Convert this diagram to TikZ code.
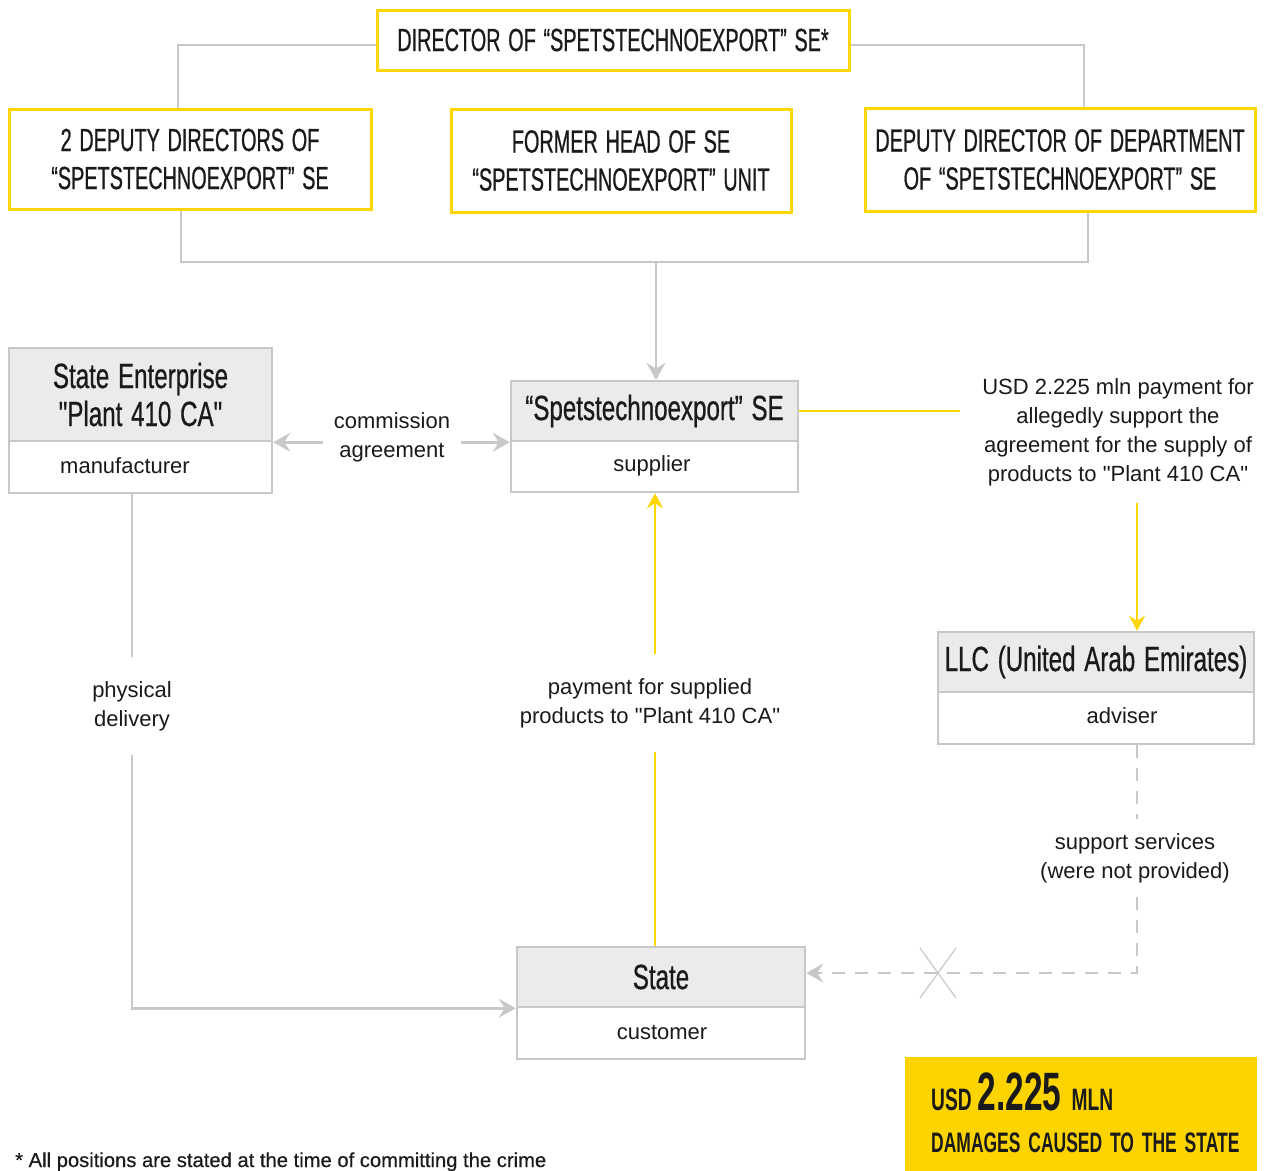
\documentclass[tikz,border=0pt]{standalone}
\usepackage{fontspec}
\setmainfont{Liberation Sans}
\newfontfamily\bodyfont{Liberation Sans}
\newfontfamily\condfont[FakeStretch=0.62,FakeBold=0.6,WordSpace=1.4]{Liberation Sans}
\newfontfamily\hdrfont[FakeStretch=0.69,FakeBold=0.6,WordSpace=1.3]{Liberation Sans}
\newfontfamily\boldcond[FakeStretch=0.62]{Liberation Sans}
\newfontfamily\footfont[FakeBold=0.4]{Liberation Sans}
\usetikzlibrary{arrows.meta}
\definecolor{ybord}{HTML}{FFD600}
\definecolor{glin}{HTML}{C8C8C8}
\definecolor{hfill}{HTML}{EBEBEB}
\definecolor{dmg}{HTML}{FDD400}
\definecolor{ink}{HTML}{1A1A1A}
\tikzset{
  ybox/.style={draw=ybord, line width=3pt, fill=white, inner sep=0pt, align=center, text=ink,
    font=\condfont\fontsize{32}{38}\selectfont},
  hdr/.style={draw=glin, line width=2.5pt, fill=hfill, inner sep=0pt, align=center, text=ink,
    font=\hdrfont\fontsize{35}{38}\selectfont},
  subbox/.style={draw=glin, line width=2.5pt, fill=white, inner sep=0pt},
  body/.style={font=\bodyfont\fontsize{22}{29}\selectfont, align=center, text=ink},
  gconn/.style={draw=glin, line width=2.5pt},
  garrow/.style={gconn, -{Stealth[length=17pt,width=19pt,inset=6pt]}},
  gdash/.style={gconn, dash pattern=on 13pt off 10pt},
  yconn/.style={draw=ybord, line width=2pt},
  yarrow/.style={yconn, -{Stealth[length=15pt,width=16pt,inset=5pt]}}
}
\begin{document}
\begin{tikzpicture}[x=1pt,y=-1pt]
\useasboundingbox (0,0) rectangle (1266,1170);
\fill[white] (0,0) rectangle (1266,1170);

% top boxes
\node[ybox, minimum width=472pt, minimum height=60pt] (dir) at (613,40) {DIRECTOR OF “SPETSTECHNOEXPORT” SE*};
\node[ybox, minimum width=362pt, minimum height=100pt] (dep) at (190,159) {2 DEPUTY DIRECTORS OF\\“SPETSTECHNOEXPORT” SE};
\node[ybox, minimum width=340pt, minimum height=103pt] (fhead) at (621,160.5) {FORMER HEAD OF SE\\“SPETSTECHNOEXPORT” UNIT};
\node[ybox, minimum width=390pt, minimum height=103pt] (dept) at (1060,159.5) {DEPUTY DIRECTOR OF DEPARTMENT\\OF “SPETSTECHNOEXPORT” SE};

\coordinate (j) at (656,262);
\draw[gconn] ([yshift=-5pt]dir.west) -| ([xshift=-12pt]dep.north);
\draw[gconn] ([yshift=-5pt]dir.east) -| ([xshift=24pt]dept.north);
\draw[gconn] ([xshift=-9pt]dep.south) |- (j) -| ([xshift=28pt]dept.south);

% plant
\node[hdr, minimum width=263pt, minimum height=93pt] (planth) at (140.5,394.5) {State Enterprise\\"Plant 410 CA"};
\node[subbox, minimum width=263pt, minimum height=52pt] (plants) at (140.5,467) {};
\node[body] (manu) at (125,466) {manufacturer};

% spets
\node[hdr, minimum width=287pt, minimum height=60pt] (spetsh) at (654.5,411) {“Spetstechnoexport” SE};
\node[subbox, minimum width=287pt, minimum height=51pt] (spetss) at (654.5,466.5) {};
\node[body] (supl) at (652,466) {supplier};

\draw[garrow] (j) -- (j |- spetsh.north);

% commission
\node[body, inner xsep=11pt] (comm) at (392,437) {commission\\agreement};
\draw[garrow] (comm.west |- planth.south) -- (planth.south east);
\draw[garrow] (comm.east |- planth.south) -- (spetsh.south west);

% USD payment
\node[body, inner xsep=22pt] (usd) at (1118,432) {USD 2.225 mln payment for\\allegedly support the\\agreement for the supply of\\products to "Plant 410 CA"};
\draw[yconn] (spetsh.east) -- (spetsh.east -| usd.west);

% LLC
\node[hdr, minimum width=316pt, minimum height=60pt] (llch) at (1096,662) {LLC (United Arab Emirates)};
\node[subbox, minimum width=316pt, minimum height=52pt] (llcs) at (1096,718) {};
\node[body] (advs) at (1122,716) {adviser};

\coordinate (ua) at (1137,503);
\draw[yarrow] (ua) -- (ua |- llch.north);

% State
\node[hdr, minimum width=288pt, minimum height=60pt] (stateh) at (661,977) {State};
\node[subbox, minimum width=288pt, minimum height=52pt] (states) at (661,1033) {};
\node[body] (cust) at (662,1032) {customer};

% support services
\node[body, inner ysep=14pt] (supp) at (1135,858) {support services\\(were not provided)};
\coordinate (corner) at (1137,973);
\draw[gdash] (llcs.south -| corner) -- (supp.north -| corner);
\draw[gdash, -{Stealth[length=17pt,width=19pt,inset=6pt]}] (supp.south -| corner) -- (corner) -- (corner -| stateh.east);
\draw[glin, line width=1.2pt] (920,948) -- (956,998) (956,948) -- (920,998);

% payment for supplied
\coordinate (px) at (655,0);
\node[body, inner ysep=24pt] (pay) at (650,703) {payment for supplied\\products to "Plant 410 CA"};
\draw[yconn] (stateh.north -| px) -- (pay.south -| px);
\draw[yarrow] (pay.north -| px) -- (spetss.south -| px);

% physical delivery
\node[body, inner ysep=24pt] (phys) at (132,706) {physical\\delivery};
\draw[gconn] (plants.south -| phys) -- (phys.north);
\draw[garrow] (phys.south) |- (stateh.south west);

% damages
\fill[dmg] (905,1057) rectangle (1257,1185);
\node[anchor=base west, inner sep=0pt, text=ink, font=\boldcond\bfseries] (dmgnum) at (931,1110)
  {{\fontsize{31}{31}\selectfont USD}\hspace{6pt}{\fontsize{54}{54}\selectfont 2.225}\hspace{10pt}{\fontsize{31}{31}\selectfont MLN}};
\node[anchor=base west, inner sep=0pt, text=ink, font=\boldcond\bfseries\fontsize{28.2}{30}\selectfont] (dmgtxt) at (931,1152) {DAMAGES\hspace{3pt} CAUSED\hspace{3pt} TO\hspace{3pt} THE\hspace{3pt} STATE};

% footnote
\node[anchor=base west, inner sep=0pt, text=ink, font=\footfont\fontsize{20.2}{22}\selectfont] (foot) at (15,1167) {* All positions are stated at the time of committing the crime};
\end{tikzpicture}
\end{document}
